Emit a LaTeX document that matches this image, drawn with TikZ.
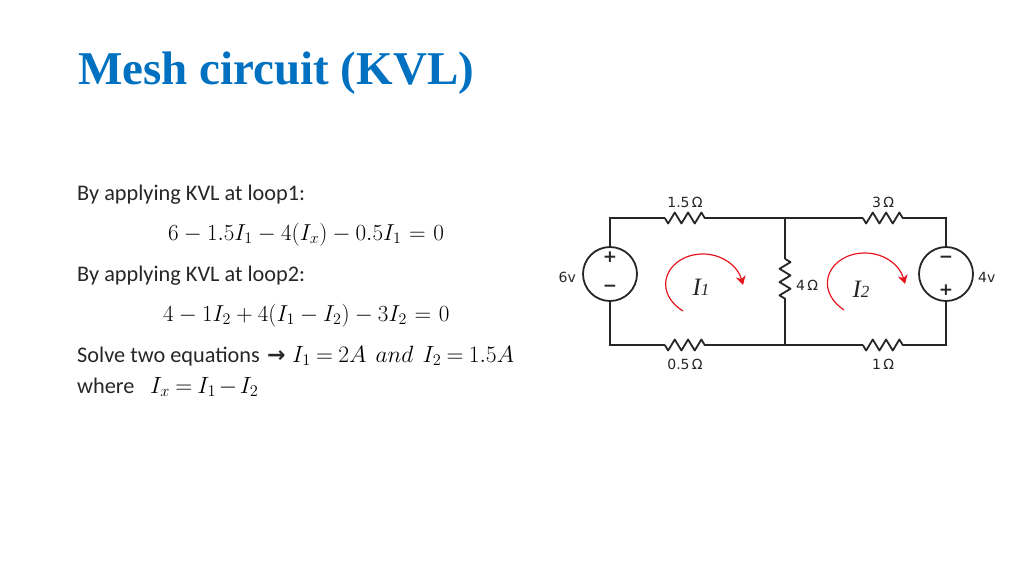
\documentclass[tikz,border=0pt]{standalone}
\usepackage{amsmath}
\usepackage{fontspec}
\setmainfont{Carlito}
\newfontfamily\titlefont{Liberation Serif}
\newfontfamily\labelfont{DejaVu Sans}
\usetikzlibrary{positioning,arrows.meta,decorations.pathmorphing}
\definecolor{titleblue}{RGB}{0,112,192}
\definecolor{inkgrey}{RGB}{38,38,38}
\definecolor{meshred}{RGB}{230,20,30}
\tikzset{
  wire/.style={line width=1.8pt, draw=inkgrey},
  res/.style={minimum width=40pt, minimum height=12pt, inner sep=0pt},
  zig/.style={wire, line join=round, decorate, decoration={zigzag, segment length=13.3pt, amplitude=5.5pt}},
  source/.style={circle, wire, minimum size=54pt, inner sep=0pt},
  sign/.style={font=\labelfont\bfseries\fontsize{17}{17}\selectfont, text=inkgrey, inner sep=0pt},
  value/.style={font=\labelfont\fontsize{14}{14}\selectfont, text=inkgrey, inner sep=0pt},
  mesh/.style={line width=1.2pt, draw=meshred, -{Stealth[length=9pt,width=10pt]}},
  current/.style={font=\titlefont\itshape\fontsize{25}{25}\selectfont, text=inkgrey, inner sep=0pt},
  para/.style={anchor=base west, inner sep=0pt, text=black!85, font=\fontsize{22.3}{26}\selectfont},
  eqn/.style={anchor=base west, inner sep=0pt, text=black, font=\fontsize{20.74}{26}\selectfont, scale=1.113},
  eqntight/.style={eqn, scale=1.02, execute at begin node={\thickmuskip=4mu\medmuskip=2mu}},
}
\begin{document}
\begin{tikzpicture}[x=1pt, y=-1pt]
  \useasboundingbox (0,0) rectangle (1024,576);

  \node[anchor=base west, inner sep=0pt, text=titleblue, font=\titlefont\bfseries\fontsize{47}{50}\selectfont] (title) at (78,84) {Mesh circuit (KVL)};

  % left column
  \medmuskip=4mu
  \thickmuskip=6mu
  \node[para] (line1) at (77,200) {By applying KVL at loop1:};
  \node[eqn] (eq1) at (168,240) {$6-1.5I_1-4(I_x)-0.5I_1=0$};
  \node[para] (line2) at (77,281) {By applying KVL at loop2:};
  \node[eqn] (eq2) at (163,321) {$4-1I_2+4(I_1-I_2)-3I_2=0$};
  \node[para] (line3) at (77,362) {Solve two equations};
  \node[para, font=\labelfont\bfseries\fontsize{22}{26}\selectfont] (arr) at (267,362) {→};
  \node[eqntight] (eq3) at (292,362) {$I_1=2A\;\,and\;\,I_2=1.5A$};
  \node[para] (line4) at (77,393) {where};
  \node[eqntight] (eq4) at (150,393) {$I_x=I_1-I_2$};

  % circuit
  \node[source] (v1) at (610,274) {};
  \node[source] (v2) at (946,274) {};
  \node[res] (r1) at (685,218) {};
  \node[res] (r2) at (883,218) {};
  \node[res] (r3) at (685,345) {};
  \node[res] (r4) at (883,345) {};
  \node[res, rotate=-90] (r5) at (785,279) {};
  \coordinate (jt) at (785,218);
  \coordinate (jb) at (785,345);

  \draw[wire] (v1.north) |- (r1.west);
  \draw[wire] (r1.east) -- (jt) -- (r2.west);
  \draw[wire] (r2.east) -| (v2.north);
  \draw[wire] (v1.south) |- (r3.west);
  \draw[wire] (r3.east) -- (jb) -- (r4.west);
  \draw[wire] (r4.east) -| (v2.south);
  \draw[wire] (jt) -- (r5.west);
  \draw[wire] (r5.east) -- (jb);
  \foreach \r in {r1,r2,r3,r4}
    \draw[zig, decoration={mirror}] (\r.west) -- (\r.east);
  \draw[zig] (r5.west) -- (r5.east);

  \node[sign, above=11pt of v1.center] (p1) {+};
  \node[sign, below=11pt of v1.center] (m1) {\textminus};
  \node[sign, above=11pt of v2.center] (m2) {\textminus};
  \node[sign, below=11pt of v2.center] (p2) {+};

  \node[value, above=4pt of r1] (l1) {1.5\,Ω};
  \node[value, above=4pt of r2] (l2) {3\,Ω};
  \node[value, below=8pt of r3] (l3) {0.5\,Ω};
  \node[value, below=8pt of r4] (l4) {1\,Ω};
  \node[value, anchor=west] (l5) at (796,285) {4\,Ω};
  \node[value, anchor=east] (s1) at (576,277) {6v};
  \node[value, anchor=west] (s2) at (978,277) {4v};

  \node[current] (i1) at (701,287) {I\fontsize{17}{17}\selectfont 1};
  \node[current] (i2) at (861,289) {I\fontsize{17}{17}\selectfont 2};

  \coordinate (a1) at (683,311);
  \coordinate (b1) at (743,285);
  \coordinate (a2) at (844,310);
  \coordinate (b2) at (905,284);
  \draw[mesh] (a1) .. controls (650,290) and (668,254) .. (703,254) .. controls (722,254) and (738,266) .. (b1);
  \draw[mesh] (a2) .. controls (812,288) and (830,253) .. (865,253) .. controls (884,253) and (900,265) .. (b2);
\end{tikzpicture}
\end{document}
